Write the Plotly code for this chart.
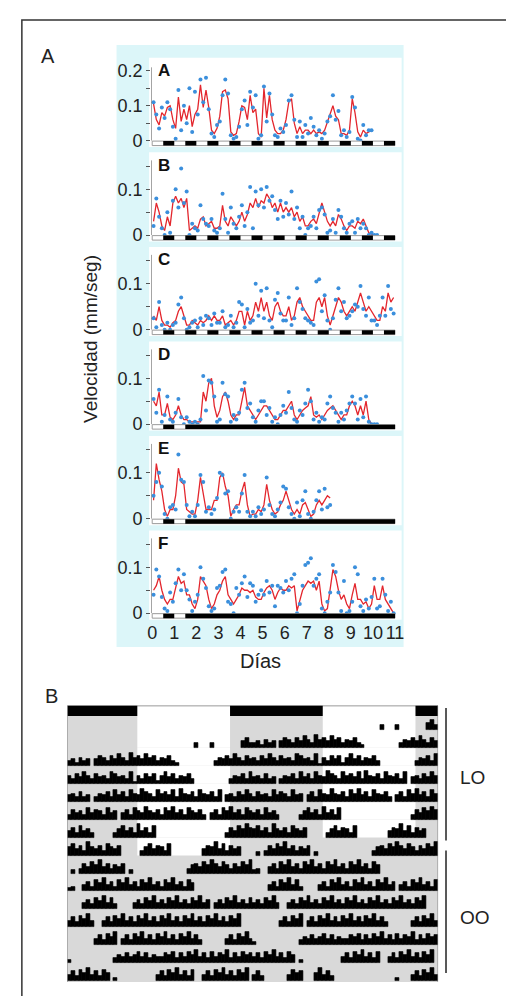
import plotly.graph_objects as go

W, H = 514, 996
FONT = "Liberation Sans, Arial, Helvetica, sans-serif"

# ---------------- DATA ----------------
BIN_DAYS = 0.125  # sampling interval of the speed series (3 h)

# speed in mm/s x 1000 ; smoothed curve (red) and raw points (blue)
A_LINE = [105, 60, 45, 80, 70, 95, 100, 60,
          35, 125, 55, 90, 60, 100, 40, 75,
          90, 160, 95, 145, 95, 30, 20, 35,
          70, 140, 145, 120, 25, 15, 20, 55,
          100, 95, 60, 130, 80, 90, 20, 10,
          150, 65, 130, 60, 30, 20, 20, 30,
          60, 110, 120, 50, 20, 40, 20, 30,
          30, 20, 30, 20, 25, 20, 30, 55,
          80, 100, 70, 60, 20, 20, 15, 30,
          120, 80, 25, 10, 30, 20, 25, 30]
A_DOTS = [110, 75, 35, 95, 65, 110, 90, 40,
          5, 145, 30, 100, 50, 150, 25, 140,
          75, 175, 110, 180, 90, 20, 10, 45,
          55, 130, 175, 135, 15, 5, 10, 40,
          90, 115, 45, 140, 95, 130, 5, 15,
          155, 55, 135, 75, 15, 10, 35, 25,
          45, 115, 130, 60, 10, 55, 10, 45,
          20, 65, 40, 15, 30, 5, 20, 55,
          70, 130, 60, 85, 15, 30, 10, 25,
          125, 95, 5, 0, 45, 15, 30, 30]

B_LINE = [30, 70, 50, 20, 10, 40, 20, 70,
          85, 70, 80, 60, 80, 10, 15, 20,
          15, 35, 40, 20, 25, 30, 15, 15,
          20, 65, 30, 20, 40, 30, 20, 30,
          50, 30, 45, 70, 60, 80, 60, 75,
          70, 90, 80, 60, 70, 50, 70, 50,
          60, 50, 60, 40, 50, 30, 40, 20,
          20, 30, 35, 25, 50, 70, 50, 30,
          20, 30, 20, 45, 35, 20, 10, 20,
          20, 15, 30, 25, 35, 20, 5, 2,
          0, 0]
B_DOTS = [20, 80, 40, 15, 0, 50, 5, 75,
          100, 60, 145, 70, 95, 0, 25, 15,
          10, 65, 35, 25, 20, 35, 10, 5,
          15, 90, 35, 5, 60, 25, 15, 40,
          65, 20, 50, 105, 15, 95, 65, 100,
          60, 105, 75, 85, 55, 35, 75, 40,
          70, 45, 95, 35, 60, 15, 40, 0,
          15, 20, 40, 15, 55, 60, 45, 5,
          10, 35, 5, 55, 40, 15, 5, 25,
          30, 5, 35, 15, 25, 15, 0, 5,
          0, 0]

C_LINE = [30, 20, 50, 20, 10, 10, 5, 15,
          20, 40, 50, 30, 10, 10, 20, 15,
          10, 20, 15, 20, 30, 20, 30, 20,
          20, 30, 10, 15, 20, 10, 20, 40,
          40, 10, 40, 20, 30, 60, 40, 70,
          40, 60, 30, 20, 50, 60, 40, 30,
          30, 50, 20, 30, 60, 70, 50, 40,
          30, 20, 20, 60, 70, 50, 70, 30,
          10, 30, 50, 70, 60, 40, 30, 40,
          50, 40, 60, 80, 60, 40, 50, 40,
          30, 20, 20, 50, 40, 80, 60, 70]
C_DOTS = [25, 5, 60, 10, 0, 15, 0, 10,
          15, 55, 70, 25, 0, 5, 15, 20,
          5, 25, 10, 30, 25, 10, 35, 15,
          15, 40, 5, 10, 30, 5, 15, 60,
          55, 5, 45, 15, 20, 100, 30, 85,
          25, 90, 20, 5, 65, 80, 35, 20,
          20, 70, 10, 25, 90, 60, 45, 25,
          20, 15, 10, 105, 110, 40, 75, 20,
          0, 25, 65, 90, 40, 60, 25, 30,
          40, 55, 50, 95, 45, 30, 70, 20,
          20, 10, 30, 70, 30, 95, 45, 35]

D_LINE = [50, 40, 70, 20, 20, 45, 15, 10,
          20, 40, 20, 10, 10, 5, 5, 5,
          5, 5, 70, 50, 90, 100, 40, 15,
          30, 60, 70, 50, 20, 10, 20, 20,
          50, 80, 40, 30, 20, 10, 20, 30,
          40, 40, 30, 20, 10, 10, 20, 30,
          30, 40, 50, 20, 10, 20, 30, 35,
          40, 60, 20, 15, 20, 10, 20, 30,
          35, 40, 30, 20, 10, 20, 20, 40,
          50, 40, 20, 40, 20, 50, 10, 0,
          0, 0]
D_DOTS = [55, 25, 75, 5, 20, 60, 10, 5,
          25, 55, 15, 0, 15, 5, 0, 5,
          0, 10, 105, 30, 95, 90, 60, 5,
          10, 90, 65, 60, 5, 20, 10, 25,
          75, 90, 35, 45, 15, 5, 30, 50,
          50, 20, 35, 5, 15, 0, 20, 40,
          25, 70, 35, 10, 5, 30, 20, 45,
          75, 50, 10, 25, 5, 15, 10, 45,
          60, 35, 25, 5, 25, 10, 30, 45,
          60, 45, 10, 55, 15, 60, 5, 0,
          0, 0]

E_LINE = [40, 120, 85, 60, 20, 5, 20, 20,
          50, 110, 80, 75, 20, 15, 10, 10,
          40, 90, 50, 20, 20, 20, 40, 40,
          90, 100, 70, 50, 5, 20, 30, 30,
          60, 80, 30, 5, 10, 10, 20, 15,
          30, 75, 40, 20, 10, 15, 30, 40,
          60, 40, 20, 10, 20, 10, 30, 35,
          20, 5, 10, 30, 40, 30, 40, 50,
          45]
E_DOTS = [50, 80, 100, 70, 10, 0, 25, 30,
          20, 140, 85, 80, 30, 5, 15, 5,
          30, 95, 80, 15, 25, 10, 20, 45,
          100, 95, 55, 60, 0, 15, 25, 15,
          55, 95, 15, 5, 15, 5, 25, 10,
          20, 90, 30, 10, 5, 20, 35, 70,
          65, 25, 10, 0, 35, 5, 40, 60,
          10, 0, 15, 40, 60, 20, 65, 25,
          30]

F_LINE = [50, 60, 80, 50, 30, 20, 30, 30,
          55, 80, 65, 70, 40, 40, 20, 10,
          30, 80, 70, 60, 30, 10, 20, 40,
          50, 70, 80, 40, 30, 20, 30, 40,
          55, 50, 50, 45, 50, 35, 30, 30,
          45, 55, 60, 50, 30, 45, 55, 50,
          50, 60, 55, 60, 5, 30, 50, 60,
          70, 65, 70, 50, 70, 20, 5, 10,
          50, 95, 80, 50, 30, 40, 20, 10,
          40, 65, 30, 30, 20, 25, 10, 20,
          60, 30, 30, 60, 30, 20, 10, 0]
F_DOTS = [40, 95, 80, 35, 10, 5, 45, 25,
          65, 95, 50, 85, 50, 30, 5, 25,
          40, 100, 75, 55, 15, 5, 10, 55,
          60, 90, 95, 25, 20, 0, 55, 40,
          65, 80, 35, 65, 60, 25, 40, 50,
          40, 70, 45, 60, 15, 60, 55, 45,
          70, 50, 75, 85, 0, 20, 60, 105,
          110, 120, 60, 75, 85, 10, 0, 25,
          45, 105, 90, 45, 5, 70, 0, 5,
          25, 100, 85, 15, 5, 30, 10, 35,
          75, 10, 15, 75, 40, 5, 25, 0]

PANEL_NAMES = ["A", "B", "C", "D", "E", "F"]
PANEL_LINES = [A_LINE, B_LINE, C_LINE, D_LINE, E_LINE, F_LINE]
PANEL_DOTS = [A_DOTS, B_DOTS, C_DOTS, D_DOTS, E_DOTS, F_DOTS]
DD_FROM = [None, None, None, 1.5, 1.5, 1.5]   # day when constant darkness begins
X_TICKS = list(range(12))

# actogram: activity level per half-hour bin (0-9), one string per day
ACT_BIN_H = 0.5
ACT_DAYS = [
    "000000000000 000000000000 000000000000 000000000000",
    "000000000000 000000000000 000000000300 030000000463",
    "342534046536 475385647563 546320000000 003546475364",
    "536475364537 645371536462 574635463000 000000354637",
    "453634035463 746375486537 564738546375 463704536475",
    "364537465374 504637548546 375846375463 046375846375",
    "463745300000 357463846370 000000000000 000003647586",
    "574638546375 460000035746 537000000004 658473645000",
    "020364758463 546020000000 000000035647 586475364758",
    "230046375846 375846375846 375846375000 000000000000",
    "000046375847 300004637584 637584637584 604637584637",
    "463758400463 758463758463 758463758463 758463758000",
    "000000046375 804637584637 584637584630 000004637584",
    "200000000000 354645746354 465736475846 374658364756",
    "463758463750 200000000004 637584637004 637584637580",
    "463000000475 600058463000 000000000000 020004637584",
]
LD_DAYS = 8          # days 0..7 under light/dark, then constant darkness
LIGHT_ON_H = 9.07    # hours from the left edge of each day
LIGHT_OFF_H = 21.07

# ---------------- FIGURE ----------------
def fx(p):
    return p / W


def fy(p):
    return 1 - p / H


BLUE = "#3b8fdc"
RED = "#e3262d"
CYAN = "#dcf6f9"
GRAY = "#d9d9d9"
TICK_SIZE = 18

layout = dict(width=W, height=H, margin=dict(l=0, r=0, t=0, b=0), autosize=False,
              paper_bgcolor="white", plot_bgcolor="rgba(0,0,0,0)", showlegend=False,
              font=dict(family=FONT, color="#222", size=TICK_SIZE), bargap=0)
shapes, annos, traces = [], [], []

# cyan panel
shapes.append(dict(type="rect", xref="paper", yref="paper", x0=fx(106), x1=fx(397),
                   y0=fy(641), y1=fy(37), fillcolor=CYAN, line_width=0, layer="below"))

ZERO0, STEP = 133, 94.8
for i in range(6):
    zero = ZERO0 + STEP * i
    top, bot = zero - 83, zero + 7
    sc = 350 if i == 0 else 460
    xn = "x" if i == 0 else f"x{i+1}"
    yn = "y" if i == 0 else f"y{i+1}"
    xa = "xaxis" if i == 0 else f"xaxis{i+1}"
    ya = "yaxis" if i == 0 else f"yaxis{i+1}"
    if i == 0:
        tv, tt, ymt = [0, 0.05, 0.1, 0.15, 0.2], ["0", "", "0.1", "", "0.2"], 0.21
    else:
        tv, tt, ymt = [0, 0.05, 0.1, 0.15], ["0", "", "0.1", ""], 0.163
    layout[xa] = dict(domain=[fx(141), fx(395)], range=[-0.05, 11.3], anchor=yn,
                      showgrid=False, zeroline=False, showline=False,
                      showticklabels=(i == 5), ticks="", tickvals=X_TICKS,
                      ticktext=[str(t) for t in X_TICKS], tickfont=dict(size=TICK_SIZE, color="#222"))
    layout[ya] = dict(domain=[fy(bot), fy(top)], range=[-7 / sc, 83 / sc], anchor=xn,
                      showgrid=False, zeroline=False, showline=False,
                      tickvals=tv, ticktext=tt, ticks="outside", ticklen=4, tickwidth=1,
                      tickcolor="#555", tickfont=dict(size=TICK_SIZE, color="#222"))
    # white plotting area
    shapes.append(dict(type="rect", xref="paper", yref="paper", x0=fx(139), x1=fx(395),
                       y0=fy(bot - 0.5), y1=fy(top), fillcolor="white", line_width=0, layer="below"))
    # light/dark bar
    b0, b1 = -5.0 / sc, -0.5 / sc
    shapes.append(dict(type="rect", xref=xn, yref=yn, x0=0, x1=11, y0=b0, y1=b1,
                       fillcolor="white", line=dict(color="#9a9a9a", width=1), layer="above"))
    d = 0.5
    while d < 11:
        if DD_FROM[i] is not None and d >= DD_FROM[i]:
            shapes.append(dict(type="rect", xref=xn, yref=yn, x0=d, x1=11, y0=b0, y1=b1,
                               fillcolor="black", line_width=0, layer="above"))
            break
        shapes.append(dict(type="rect", xref=xn, yref=yn, x0=d, x1=d + 0.5, y0=b0, y1=b1,
                           fillcolor="black", line_width=0, layer="above"))
        d += 1
    # y axis line
    shapes.append(dict(type="line", xref=xn, yref=yn, x0=-0.05, x1=-0.05, y0=0, y1=ymt,
                       line=dict(color="#555", width=1), layer="above"))
    # data
    line = PANEL_LINES[i]
    dots = PANEL_DOTS[i]
    tx = [(j + 0.5) * BIN_DAYS for j in range(len(line))]
    traces.append(go.Scatter(x=tx, y=[v / 1000 for v in line], mode="lines", xaxis=xn, yaxis=yn,
                             line=dict(color=RED, width=1.3), hoverinfo="skip"))
    traces.append(go.Scatter(x=tx, y=[v / 1000 for v in dots], mode="markers", xaxis=xn, yaxis=yn,
                             marker=dict(color=BLUE, size=4), hoverinfo="skip"))
    annos.append(dict(text=f"<b>{PANEL_NAMES[i]}</b>", x=fx(146), y=fy(zero - 70), xref="paper",
                      yref="paper", xanchor="left", yanchor="middle", showarrow=False,
                      font=dict(size=17, color="#111")))

# ---------------- ACTOGRAM ----------------
layout["xaxis7"] = dict(domain=[fx(56), fx(432)], range=[0, 48], anchor="y7", visible=False)
layout["yaxis7"] = dict(domain=[fy(977.8), fy(698)], range=[-14.1, 1.45], anchor="x7", visible=False)

n_rows = len(ACT_DAYS) - 1
shapes.append(dict(type="rect", xref="x7", yref="y7", x0=0, x1=48, y0=-n_rows + 1 - 0.05,
                   y1=0.78, fillcolor=GRAY, line_width=0, layer="below"))
for dday in range(LD_DAYS):
    k = dday
    if k <= n_rows - 1:
        shapes.append(dict(type="rect", xref="x7", yref="y7", x0=LIGHT_ON_H, x1=LIGHT_OFF_H,
                           y0=-k, y1=min(-k + 1, 0.78), fillcolor="white", line_width=0, layer="below"))
    k = dday - 1
    if k >= 0:
        shapes.append(dict(type="rect", xref="x7", yref="y7", x0=24 + LIGHT_ON_H, x1=24 + LIGHT_OFF_H,
                           y0=-k, y1=min(-k + 1, 0.78), fillcolor="white", line_width=0, layer="below"))
# LD bar on top
shapes.append(dict(type="line", xref="x7", yref="y7", x0=0, x1=48, y0=1.34, y1=1.34,
                   line=dict(color="#9a9a9a", width=1)))
for (a, b) in [(0, LIGHT_ON_H), (LIGHT_OFF_H, 24 + LIGHT_ON_H), (24 + LIGHT_OFF_H, 48)]:
    shapes.append(dict(type="rect", xref="x7", yref="y7", x0=a, x1=b, y0=0.78, y1=1.34,
                       fillcolor="black", line_width=0))
for xv in (0, 48):
    shapes.append(dict(type="line", xref="x7", yref="y7", x0=xv, x1=xv, y0=-14.05, y1=1.34,
                       line=dict(color="#8a8a8a", width=1.2)))

bx, by, bb = [], [], []
for k in range(n_rows):
    for half, dday in enumerate((k, k + 1)):
        levels = [int(c) for c in ACT_DAYS[dday].replace(" ", "")]
        for j, lv in enumerate(levels):
            if lv > 0:
                bx.append(half * 24 + (j + 0.5) * ACT_BIN_H)
                by.append(lv * 0.092)
                bb.append(-k)
traces.append(go.Bar(x=bx, y=by, base=bb, width=ACT_BIN_H, xaxis="x7", yaxis="y7",
                     marker=dict(color="black", line=dict(color="black", width=0.6)),
                     hoverinfo="skip"))

# right-hand brackets
for (a, b) in [(702, 835), (845, 968)]:
    shapes.append(dict(type="line", xref="paper", yref="paper", x0=fx(440), x1=fx(440),
                       y0=fy(a), y1=fy(b), line=dict(color="#222", width=1.5)))

# outer frame
shapes.append(dict(type="rect", xref="paper", yref="paper", x0=fx(10), x1=fx(560), y0=fy(1060),
                   y1=fy(12), line=dict(color="#333", width=1.5), fillcolor="rgba(0,0,0,0)"))

def text(t, x, y, size, angle=0):
    annos.append(dict(text=t, x=fx(x), y=fy(y), xref="paper", yref="paper", showarrow=False,
                      xanchor="center", yanchor="middle", textangle=angle,
                      font=dict(size=size, color="#222")))

text("A", 37, 48, 20)
text("B", 40, 690, 20)
text("Velocidad (mm/seg)", 80, 332, 19, -90)
text("Días", 252, 655, 20)
text("LO", 467, 772, 19)
text("OO", 469, 912, 19)

layout["shapes"] = shapes
layout["annotations"] = annos
fig = go.Figure(data=traces, layout=layout)
fig.write_html("out.html")
